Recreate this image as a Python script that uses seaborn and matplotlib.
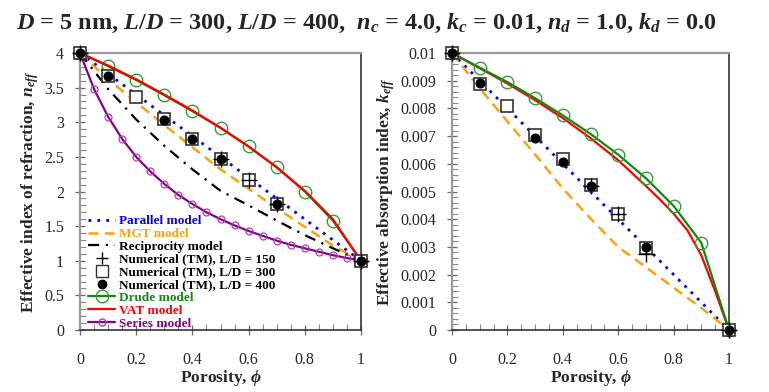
import matplotlib
matplotlib.use("Agg")
import matplotlib.pyplot as plt
import seaborn as sns
from matplotlib.lines import Line2D
from matplotlib.ticker import MultipleLocator, FuncFormatter

# ---------------- data ----------------
phi = [0.0, 0.1, 0.2, 0.3, 0.4, 0.5, 0.6, 0.7, 0.8, 0.9, 1.0]
phi_series = [0.0, 0.05, 0.1, 0.15, 0.2, 0.25, 0.3, 0.35, 0.4, 0.45, 0.5,
              0.55, 0.6, 0.65, 0.7, 0.75, 0.8, 0.85, 0.9, 0.95, 1.0]

# left panel: effective index of refraction
n_parallel = [4.0, 3.7, 3.4, 3.1, 2.8, 2.5, 2.2, 1.9, 1.6, 1.3, 1.0]
n_mgt = [4.0, 3.62, 3.29, 2.96, 2.64, 2.32, 2.04, 1.76, 1.49, 1.22, 1.0]
n_recip = [4.0, 3.48, 3.04, 2.66, 2.32, 2.01, 1.80, 1.58, 1.37, 1.18, 1.0]
n_drude = [4.0, 3.81, 3.61, 3.39, 3.16, 2.92, 2.65, 2.35, 2.00, 1.58, 1.0]
n_vat = [4.0, 3.82, 3.62, 3.40, 3.17, 2.92, 2.65, 2.35, 2.01, 1.60, 1.0]
n_series = [4.0, 3.48, 3.08, 2.76, 2.50, 2.29, 2.11, 1.95, 1.82, 1.70, 1.60,
            1.51, 1.43, 1.36, 1.29, 1.23, 1.18, 1.13, 1.08, 1.04, 1.0]

phi_num150 = [0.0, 0.5, 0.6, 0.7, 1.0]
phi_num300 = [0.0, 0.1, 0.2, 0.3, 0.4, 0.5, 0.6, 0.7, 1.0]
phi_num400 = [0.0, 0.1, 0.3, 0.4, 0.5, 0.7, 1.0]
n_num150 = [4.0, 2.47, 2.16, 1.82, 1.0]
n_num300 = [4.0, 3.67, 3.36, 3.04, 2.76, 2.47, 2.16, 1.82, 1.0]
n_num400 = [4.0, 3.67, 3.03, 2.76, 2.47, 1.82, 1.0]

# right panel: effective absorption index
k_parallel = [0.01, 0.009, 0.008, 0.007, 0.006, 0.005, 0.004, 0.003, 0.002, 0.001, 0.0]
k_mgt = [0.01, 0.00873, 0.00753, 0.00634, 0.00511, 0.00403, 0.0030, 0.00227, 0.00153, 0.0008, 0.0]
k_drude = [0.01, 0.00947, 0.00895, 0.00837, 0.00775, 0.00708, 0.00633, 0.00548, 0.00448, 0.00315, 0.0]
phi_vat_k = [0.0, 0.1, 0.2, 0.3, 0.4, 0.5, 0.6, 0.7, 0.75, 0.8, 0.85, 0.9, 0.95, 1.0]
k_vat = [0.01, 0.00945, 0.0089, 0.0083, 0.00765, 0.00693, 0.00613, 0.0052,
         0.00472, 0.00420, 0.00360, 0.00270, 0.00140, 0.0]
k_num150 = [0.01, 0.0052, 0.00417, 0.00276, 0.0]
k_num300 = [0.01, 0.00887, 0.00807, 0.00705, 0.00619, 0.00522, 0.00417, 0.00297, 0.0]
k_num400 = [0.01, 0.0089, 0.00693, 0.00607, 0.0052, 0.0030, 0.0]

x_ticks = [0, 0.2, 0.4, 0.6, 0.8, 1]
labels = ["Parallel model", "MGT model", "Reciprocity model",
          "Numerical (TM), L/D = 150", "Numerical (TM), L/D = 300",
          "Numerical (TM), L/D = 400", "Drude model", "VAT model", "Series model"]

# ---------------- style ----------------
sns.set_style("white")
plt.rcParams["font.family"] = ["Liberation Serif", "DejaVu Serif"]
plt.rcParams["mathtext.fontset"] = "custom"
plt.rcParams["mathtext.rm"] = "Liberation Serif:bold"
plt.rcParams["mathtext.it"] = "Liberation Serif:bold:italic"
plt.rcParams["mathtext.bf"] = "Liberation Serif:bold"

BLUE = "#0000ff"
ORANGE = "#ffa010"
GREEN = "#118811"
RED = "#ff0000"
PURPLE = "#880088"

fig = plt.figure(figsize=(7.69, 3.92), dpi=100)
axL = fig.add_axes([80 / 769, 62 / 392, 281 / 769, 277 / 392])
axR = fig.add_axes([452 / 769, 62 / 392, 277 / 769, 277 / 392])


def num_markers(ax, x150, y150, x300, y300, x400, y400):
    sns.lineplot(x=x300, y=y300, ax=ax, linestyle="none", marker="s", markersize=9,
                 markerfacecolor="white", markeredgecolor="#333333", markeredgewidth=1.2,
                 clip_on=False, zorder=6, estimator=None, sort=False)
    sns.lineplot(x=x150, y=y150, ax=ax, linestyle="none", marker="+", markersize=11,
                 markeredgecolor="black", markeredgewidth=1.0, color="black",
                 clip_on=False, zorder=7, estimator=None, sort=False)
    sns.lineplot(x=x400, y=y400, ax=ax, linestyle="none", marker="o", markersize=6.5,
                 markerfacecolor="black", markeredgecolor="black", color="black",
                 clip_on=False, zorder=8, estimator=None, sort=False)


# ---------------- left panel ----------------
sns.lineplot(x=phi, y=n_parallel, ax=axL, color=BLUE, linestyle=(0, (1, 2.2)), linewidth=2.0,
             estimator=None, sort=False, zorder=3)
sns.lineplot(x=phi, y=n_mgt, ax=axL, color=ORANGE, linestyle=(0, (4, 2.5)), linewidth=1.8,
             estimator=None, sort=False, zorder=3)
sns.lineplot(x=phi, y=n_recip, ax=axL, color="black", linestyle=(0, (5, 3, 1, 3)), linewidth=1.6,
             estimator=None, sort=False, zorder=3)
sns.lineplot(x=phi, y=n_drude, ax=axL, color=GREEN, linewidth=1.6, marker="o", markersize=9,
             markerfacecolor="none", markeredgecolor="#3a9a3a", markeredgewidth=1.0,
             estimator=None, sort=False, clip_on=False, zorder=4)
sns.lineplot(x=phi, y=n_vat, ax=axL, color=RED, linewidth=1.6,
             estimator=None, sort=False, zorder=4)
sns.lineplot(x=phi_series, y=n_series, ax=axL, color=PURPLE, linewidth=1.6, marker="o",
             markersize=5, markerfacecolor="none", markeredgecolor="#aa44aa", markeredgewidth=0.9,
             estimator=None, sort=False, clip_on=False, zorder=5)
num_markers(axL, phi_num150, n_num150, phi_num300, n_num300, phi_num400, n_num400)

# ---------------- right panel ----------------
sns.lineplot(x=phi, y=k_parallel, ax=axR, color=BLUE, linestyle=(0, (1, 2.2)), linewidth=2.0,
             estimator=None, sort=False, zorder=3)
sns.lineplot(x=phi, y=k_mgt, ax=axR, color=ORANGE, linestyle=(0, (4, 2.5)), linewidth=1.8,
             estimator=None, sort=False, zorder=3)
sns.lineplot(x=phi_vat_k, y=k_vat, ax=axR, color=RED, linewidth=1.6,
             estimator=None, sort=False, zorder=4)
sns.lineplot(x=phi, y=k_drude, ax=axR, color=GREEN, linewidth=1.6, marker="o", markersize=9,
             markerfacecolor="none", markeredgecolor="#3a9a3a", markeredgewidth=1.0,
             estimator=None, sort=False, clip_on=False, zorder=4)
num_markers(axR, phi_num150, k_num150, phi_num300, k_num300, phi_num400, k_num400)

# ---------------- axes formatting ----------------
fmt = FuncFormatter(lambda v, p: f"{v:g}")
for ax, (ymax, ymaj, ymin) in ((axL, (4.0, 0.5, 0.1)), (axR, (0.01, 0.001, 0.0002))):
    ax.set_xlim(0, 1)
    ax.set_ylim(0, ymax)
    ax.set_xticks(x_ticks)
    ax.xaxis.set_minor_locator(MultipleLocator(0.05))
    ax.yaxis.set_major_locator(MultipleLocator(ymaj))
    ax.yaxis.set_minor_locator(MultipleLocator(ymin))
    ax.xaxis.set_major_formatter(fmt)
    ax.yaxis.set_major_formatter(fmt)
    ax.tick_params(axis="both", which="major", direction="inout", length=7, width=0.9,
                   color="#666666", labelsize=11.5, pad=8)
    ax.tick_params(axis="both", which="minor", direction="in", length=4, width=0.8,
                   color="#888888")
    ax.tick_params(axis="x", which="major", pad=12)
    ax.tick_params(bottom=True, left=True, top=False, right=False, which="both")
    for s in ("left", "top"):
        ax.spines[s].set_color("#9a9a9a")
        ax.spines[s].set_linewidth(1.6)
    for s in ("right", "bottom"):
        ax.spines[s].set_color("#333333")
        ax.spines[s].set_linewidth(1.2)
    ax.set_xlabel(r"Porosity, $\phi$", fontsize=12.5, fontweight="bold", labelpad=0)

axL.set_ylabel(r"Effective index of refraction, $n_{eff}$", fontsize=12.5,
               fontweight="bold", labelpad=2)
axR.set_ylabel(r"Effective absorption index, $k_{eff}$", fontsize=12.5,
               fontweight="bold", labelpad=2)

fig.text(0.477, 0.94,
         r"$D$ = 5 nm, $L/D$ = 300, $L/D$ = 400,  $n_c$ = 4.0, $k_c$ = 0.01, $n_d$ = 1.0, $k_d$ = 0.0",
         ha="center", va="center", fontsize=17.5, fontweight="bold")

# ---------------- legend ----------------
handles = [
    Line2D([], [], color=BLUE, linestyle=(0, (1, 2.2)), linewidth=2.0),
    Line2D([], [], color=ORANGE, linestyle=(0, (4, 2.5)), linewidth=1.8),
    Line2D([], [], color="black", linestyle=(0, (5, 3, 1, 3)), linewidth=1.6),
    Line2D([], [], color="black", linestyle="none", marker="+", markersize=9, markeredgewidth=1.0),
    Line2D([], [], color="black", linestyle="none", marker="s", markersize=8,
           markerfacecolor="white", markeredgecolor="#333333", markeredgewidth=1.0),
    Line2D([], [], color="black", linestyle="none", marker="o", markersize=6),
    Line2D([], [], color=GREEN, linewidth=1.6, marker="o", markersize=9,
           markerfacecolor="none", markeredgecolor="#3a9a3a"),
    Line2D([], [], color=RED, linewidth=1.6),
    Line2D([], [], color=PURPLE, linewidth=1.6, marker="o", markersize=5,
           markerfacecolor="none", markeredgecolor="#aa44aa"),
]
text_colors = [BLUE, ORANGE, "black", "black", "black", "black", GREEN, RED, PURPLE]
leg = axL.legend(handles, labels, loc="lower left", bbox_to_anchor=(0.025, -0.003),
                 frameon=False, prop={"family": "Liberation Serif", "weight": "bold", "size": 9.5},
                 handlelength=2.0, handletextpad=0.3, labelspacing=0.04, borderpad=0.1,
                 borderaxespad=0.0, numpoints=1)
for t, c in zip(leg.get_texts(), text_colors):
    t.set_color(c)
leg.set_zorder(10)

fig.savefig("out.png", dpi=100)
